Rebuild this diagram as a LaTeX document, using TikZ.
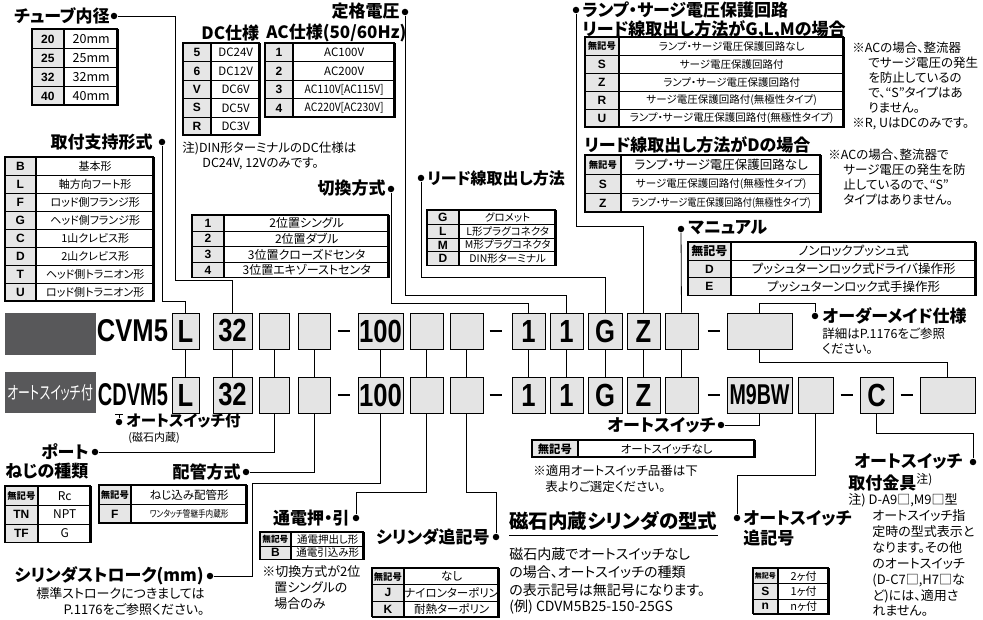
\documentclass[tikz,border=0pt]{standalone}
\usepackage{fontspec}
\setmainfont{Noto Sans CJK JP}[RawFeature=+palt]
\setsansfont{Liberation Sans}
\usepackage{graphicx}
\usetikzlibrary{calc}
\definecolor{boxgray}{HTML}{E4E4E4}
\definecolor{keygray}{HTML}{E6E6E6}
\definecolor{panel}{HTML}{58585A}
\newcommand\headfont{\fontsize{17}{19}\selectfont\bfseries}
\newcommand\notefont{\fontsize{12.5}{14}\selectfont}
\newcommand\keyfont{\fontsize{12}{12}\selectfont\sffamily\bfseries}
\newcommand\code[1]{\scalebox{0.8}[1]{\fontsize{32}{32}\selectfont\sffamily\bfseries #1}}
\newcommand\mk[1][28]{\resizebox{#1pt}{!}{\rmfamily\bfseries 無記号}}
\newcommand\sq[2][0.85]{\scalebox{#1}[1]{#2}}
% name, x, y, key width, value width, row height, rows, value font, key/value list
\newcommand\spectab[9]{%
  \foreach \k/\v [count=\i] in {#9} {
    \node[keycell, minimum width=#4, minimum height=#6, anchor=north west] (#1-k\i) at (#2,{#3+(\i-1)*#6}) {\k};
    \node[valcell, font={#8}, minimum width=#5, minimum height=#6, anchor=west] (#1-v\i) at (#1-k\i.east) {\v};
  }
  \draw[line width=1.1pt] (#2,#3) rectangle ++(#4+#5,#7*#6);
}
\tikzset{
  keycell/.style={draw, fill=keygray, inner sep=0pt, font=\keyfont},
  valcell/.style={draw, fill=white, inner sep=0pt},
  cbox/.style={draw, fill=boxgray, line width=0.9pt, minimum height=36, inner sep=0pt},
  jdot/.style={circle, fill, inner sep=0pt, minimum size=6.5pt},
  head/.style={font=\headfont, inner sep=0pt},
  note/.style={font=\notefont, inner sep=0pt, anchor=west},
  dashbar/.style={line width=2.8pt},
}
\begin{document}
\begin{tikzpicture}[x=1pt, y=-1pt, line width=0.8pt]
  \useasboundingbox (0,0) rectangle (983,620);

  % upper tables
  \node[head, anchor=east] (bore) at (110,16) {チューブ内径};
  \node[jdot] (bore-d) at (114,16) {};
  \spectab{bore}{32}{29}{31}{54}{19}{4}{\fontsize{12.5}{13}\selectfont}{20/20mm,25/25mm,32/32mm,40/40mm}

  \node[head, anchor=east] (mount) at (153,142) {取付支持形式};
  \node[jdot] (mount-d) at (162,142) {};
  \spectab{mount}{5}{157}{30}{118}{18}{8}{\fontsize{11}{12}\selectfont}{B/基本形,L/軸方向フート形,F/ロッド側フランジ形,G/ヘッド側フランジ形,C/1山クレビス形,D/2山クレビス形,T/ヘッド側トラニオン形,U/ロッド側トラニオン形}

  \node[head, anchor=east] (volt) at (400,11) {定格電圧};
  \node[jdot] (volt-d) at (405,12) {};
  \node[head, anchor=west] (dc) at (201,33) {DC仕様};
  \node[head, anchor=west] (ac) at (266,33) {AC仕様(50/60Hz)};
  \spectab{dct}{183}{43}{27}{49}{18.4}{5}{\fontsize{11.5}{12}\selectfont}{5/DC24V,6/DC12V,V/DC6V,S/DC5V,R/DC3V}
  \spectab{act}{265}{43}{27}{102}{18.5}{4}{\fontsize{11.5}{12}\selectfont}{1/AC100V,2/AC200V,3/\sq[0.9]{AC110V[AC115V]},4/\sq[0.9]{AC220V[AC230V]}}
  \node[note] (dcn1) at (182,148) {注)DIN形ターミナルのDC仕様は};
  \node[note] (dcn2) at (202,164) {DC24V, 12Vのみです。};

  \node[head, anchor=east] (sw) at (386,188) {切換方式};
  \node[jdot] (sw-d) at (391,189) {};
  \spectab{swt}{192}{215}{31}{165}{15.6}{4}{\fontsize{12}{12}\selectfont}{1/2位置シングル,2/2位置ダブル,3/3位置クローズドセンタ,4/3位置エキゾーストセンタ}

  \node[jdot] (lead-d) at (421,178) {};
  \node[head, anchor=west, font=\fontsize{16}{18}\selectfont\bfseries] (lead) at (427,178) {リード線取出し方法};
  \spectab{leadt}{427}{210}{31}{97}{13.8}{4}{\fontsize{10.5}{11}\selectfont}{G/グロメット,L/L形プラグコネクタ,M/M形プラグコネクタ,D/DIN形ターミナル}

  \node[jdot] (lamp-d) at (576,10) {};
  \node[head, anchor=west] (lamp) at (582,10) {ランプ・サージ電圧保護回路};
  \node[head, anchor=west] (lamp-a) at (582,30) {リード線取出し方法がG,L,Mの場合};
  \spectab{lampa}{585}{37}{33}{225}{18}{5}{\fontsize{10.5}{11}\selectfont}{\mk/ランプ・サージ電圧保護回路なし,S/サージ電圧保護回路付,Z/ランプ・サージ電圧保護回路付,R/サージ電圧保護回路付(無極性タイプ),U/ランプ・サージ電圧保護回路付(無極性タイプ)}
  \node[note] (lna1) at (852,48) {※ACの場合、整流器};
  \node[note] (lna2) at (868,63) {でサージ電圧の発生};
  \node[note] (lna3) at (868,78) {を防止しているの};
  \node[note] (lna4) at (868,93) {で、“S”タイプはあ};
  \node[note] (lna5) at (868,108) {りません。};
  \node[note] (lna6) at (852,124) {※R, UはDCのみです。};
  \node[head, anchor=west] (lamp-b) at (584,145) {リード線取出し方法がDの場合};
  \spectab{lampb}{585}{155}{35}{200}{19}{3}{\fontsize{10.5}{11}\selectfont}{\mk/{\fontsize{12.5}{13}\selectfont ランプ・サージ電圧保護回路なし},S/サージ電圧保護回路付(無極性タイプ),Z/\sq[0.88]{ランプ・サージ電圧保護回路付(無極性タイプ)}}
  \node[note] (lnb1) at (828,155) {※ACの場合、整流器で};
  \node[note] (lnb2) at (843,170) {サージ電圧の発生を防};
  \node[note] (lnb3) at (843,185) {止しているので、“S”};
  \node[note] (lnb4) at (843,200) {タイプはありません。};

  \node[jdot] (man-d) at (681,229) {};
  \node[head, anchor=west] (man) at (688,228) {マニュアル};
  \spectab{mant}{688}{242}{42}{245}{17.7}{3}{\fontsize{12.5}{13}\selectfont}{\mk[36]/ノンロックプッシュ式,D/プッシュターンロック式ドライバ操作形,E/プッシュターンロック式手操作形}

  \node[jdot] (omo-d) at (815,316) {};
  \node[head, anchor=west] (omo) at (822,316) {オーダーメイド仕様};
  \node[note] (omo1) at (822,334) {詳細はP.1176をご参照};
  \node[note] (omo2) at (822,349) {ください。};

  % model code rows
  \fill[panel] (5,313) rectangle (96,355);
  \fill[panel] (5,372) rectangle (96,413);
  \node[text=white, inner sep=0pt] (panel-t) at (50.5,393) {\resizebox{85pt}{15pt}{オートスイッチ付}};
  \node[inner sep=0pt] (cvm) at (132.5,331) {\resizebox{71pt}{22pt}{\sffamily\bfseries CVM5}};
  \node[inner sep=0pt] (cdvm) at (133,395) {\resizebox{70pt}{22pt}{\sffamily\bfseries CDVM5}};
  \foreach \n/\x/\w/\t in {L/185.5/27/L, 32/232.5/39/32, a/274/30/, b/314/32/, 100/380.5/45/100, c/426.5/33/, d/466.5/33/, sw/528.5/33/1, v/566.5/33/1, G/605/34/G, Z/643.5/33/Z, e/681.5/33/} {
    \node[cbox, minimum width=\w] (t-\n) at (\x,331) {\code{\t}};
    \node[cbox, minimum width=\w] (u-\n) at (\x,395) {\code{\t}};
    \draw (t-\n) -- (u-\n);
  }
  \node[cbox, minimum width=65] (t-big) at (759.5,331) {};
  \node[cbox, minimum width=65] (u-m9) at (759.5,395) {\resizebox{60pt}{20pt}{\sffamily\bfseries M9BW}};
  \node[cbox, minimum width=35] (u-f) at (815.5,395) {};
  \node[cbox, minimum width=33] (u-C) at (876.5,395) {\code{C}};
  \node[cbox, minimum width=55] (u-last) at (947.5,395) {};
  \foreach \x in {343.5,495.5,713.5} {
    \draw[dashbar] (\x-6,331) -- (\x+6,331);
    \draw[dashbar] (\x-6,395) -- (\x+6,395);
  }
  \draw[dashbar] (840.5,395) -- (852.5,395);
  \draw[dashbar] (900.5,395) -- (912.5,395);

  % upper connectors
  \draw (bore-d) -| (175,280) -| (t-32.north);
  \draw (mount-d) |- ([yshift=11pt]t-L.north) -- (t-L.north);
  \draw (sw-d) |- ([yshift=9pt]t-sw.north) -- (t-sw.north);
  \draw (volt-d) |- ([yshift=17pt]t-v.north) -- (t-v.north);
  \draw (lead-d) |- ([yshift=35pt]t-G.north) -- (t-G.north);
  \draw (lamp-d) |- ([yshift=86pt]t-Z.north) -- (t-Z.north);
  \draw (man-d) -- (t-e.north);
  \draw (t-big.north) -- ++(0,-9) -| (omo-d);
  \draw (t-big.south) |- ([yshift=14pt]u-last.north) -- (u-last.north);

  % lower tables
  \coordinate (dmark) at (119,414);
  \node[jdot] (aswd) at (119,422) {};
  \draw (dmark) -- (aswd);
  \draw ([xshift=-4pt]dmark) -- ([xshift=4pt]dmark);
  \node[head, anchor=west, font=\fontsize{15.5}{17}\selectfont\bfseries] (asw) at (126,421) {オートスイッチ付};
  \node[note, font=\fontsize{11}{12}\selectfont] (asw2) at (128,438) {(磁石内蔵)};

  \node[head, anchor=east] (port) at (89,452) {ポート};
  \node[jdot] (port-d) at (95,452) {};
  \node[head, anchor=west] (port2) at (5,471) {ねじの種類};
  \spectab{portt}{5}{486}{32}{53}{18.8}{3}{\fontsize{12}{12}\selectfont}{\mk/Rc,TN/NPT,TF/G}

  \node[head, anchor=east] (pipe) at (241,472) {配管方式};
  \node[jdot] (pipe-d) at (246,472) {};
  \spectab{pipet}{99}{485}{31}{116}{19}{2}{\fontsize{11.5}{12}\selectfont}{\mk/ねじ込み配管形,F/\sq[0.8]{\fontsize{9.5}{10}\selectfont ワンタッチ管継手内蔵形}}

  \node[head, anchor=east] (stroke) at (204,576) {シリンダストローク(mm)};
  \node[jdot] (stroke-d) at (210,576) {};
  \node[note, anchor=east, font=\fontsize{13}{14}\selectfont] (st1) at (205,594) {標準ストロークにつきましては};
  \node[note, anchor=east, font=\fontsize{13}{14}\selectfont] (st2) at (205,610) {P.1176をご参照ください。};

  \node[head, anchor=east] (push) at (350,518) {通電押・引};
  \node[jdot] (push-d) at (356,518) {};
  \spectab{pusht}{260}{532}{30}{73}{13.6}{2}{\fontsize{10.5}{11}\selectfont}{\mk[26]/通電押出し形,B/通電引込み形}
  \node[note, font=\fontsize{13}{14}\selectfont] (pn1) at (262,572) {※切換方式が2位};
  \node[note, font=\fontsize{13}{14}\selectfont] (pn2) at (274,588) {置シングルの};
  \node[note, font=\fontsize{13}{14}\selectfont] (pn3) at (274,604) {場合のみ};

  \node[head, anchor=east] (suf) at (490,537) {シリンダ追記号};
  \node[jdot] (suf-d) at (496,537) {};
  \spectab{suft}{372}{568}{31}{95}{16.3}{3}{\fontsize{11.5}{12}\selectfont}{\mk/なし,J/ナイロンターポリン,K/耐熱ターポリン}

  \node[head, anchor=east] (asws) at (716,425) {オートスイッチ};
  \node[jdot] (asws-d) at (721,425) {};
  \spectab{aswt}{532}{440}{45}{177}{17}{1}{\fontsize{11.5}{12}\selectfont}{\mk[34]/オートスイッチなし}
  \node[note] (an1) at (533,471) {※適用オートスイッチ品番は下};
  \node[note] (an2) at (545,487) {表よりご選定ください。};

  \node[head, anchor=west, font=\fontsize{19.5}{21}\selectfont\bfseries] (mag) at (509,521) {磁石内蔵シリンダの型式};
  \draw ([yshift=-4pt]mag.south west) -- ([yshift=-4pt]mag.south east);
  \node[note, font=\fontsize{14}{15}\selectfont] (mg1) at (509,554) {磁石内蔵でオートスイッチなし};
  \node[note, font=\fontsize{14}{15}\selectfont] (mg2) at (509,572) {の場合、オートスイッチの種類};
  \node[note, font=\fontsize{14}{15}\selectfont] (mg3) at (509,590) {の表示記号は無記号になります。};
  \node[note, font=\fontsize{14}{15}\selectfont] (mg4) at (509,607) {(例) CDVM5B25-150-25GS};

  \node[jdot] (sfx-d) at (737,518) {};
  \node[head, anchor=west] (sfx) at (743,518) {オートスイッチ};
  \node[head, anchor=west] (sfx2) at (743,538) {追記号};
  \spectab{sfxt}{753}{568}{24}{51}{15.3}{3}{\fontsize{11}{11}\selectfont}{\mk[21]/2ヶ付,S/1ヶ付,n/nヶ付}

  \node[head, anchor=east] (brk) at (963,461) {オートスイッチ};
  \node[jdot] (brk-d) at (973,462) {};
  \node[head, anchor=west] (brk2) at (848,482) {取付金具\textsuperscript{\mdseries 注)}};
  \node[note, font=\fontsize{13}{14}\selectfont] (bn1) at (848,500) {注) D-A9□,M9□型};
  \node[note, font=\fontsize{13}{14}\selectfont] (bn2) at (872,516) {オートスイッチ指};
  \node[note, font=\fontsize{13}{14}\selectfont] (bn3) at (872,532) {定時の型式表示と};
  \node[note, font=\fontsize{13}{14}\selectfont] (bn4) at (872,548) {なります。その他};
  \node[note, font=\fontsize{13}{14}\selectfont] (bn5) at (872,564) {のオートスイッチ};
  \node[note, font=\fontsize{13}{14}\selectfont] (bn6) at (872,580) {(D-C7□,H7□な};
  \node[note, font=\fontsize{13}{14}\selectfont] (bn7) at (872,596) {ど)には、適用さ};
  \node[note, font=\fontsize{13}{14}\selectfont] (bn8) at (872,611) {れません。};

  % lower connectors
  \draw (port-d) -| (u-a.south);
  \draw (pipe-d) -| (u-b.south);
  \draw (stroke-d) -| (252,483) -| (u-100.south);
  \draw (push-d) |- ([yshift=-79pt]u-c.south) -- (u-c.south);
  \draw (suf-d) |- ([yshift=-79pt]u-d.south) -- (u-d.south);
  \draw (asws-d) -| (u-m9.south);
  \draw (sfx-d) |- ([yshift=-62pt]u-f.south) -- (u-f.south);
  \draw (brk-d) |- ([yshift=-20pt]u-C.south) -- (u-C.south);
\end{tikzpicture}
\end{document}
